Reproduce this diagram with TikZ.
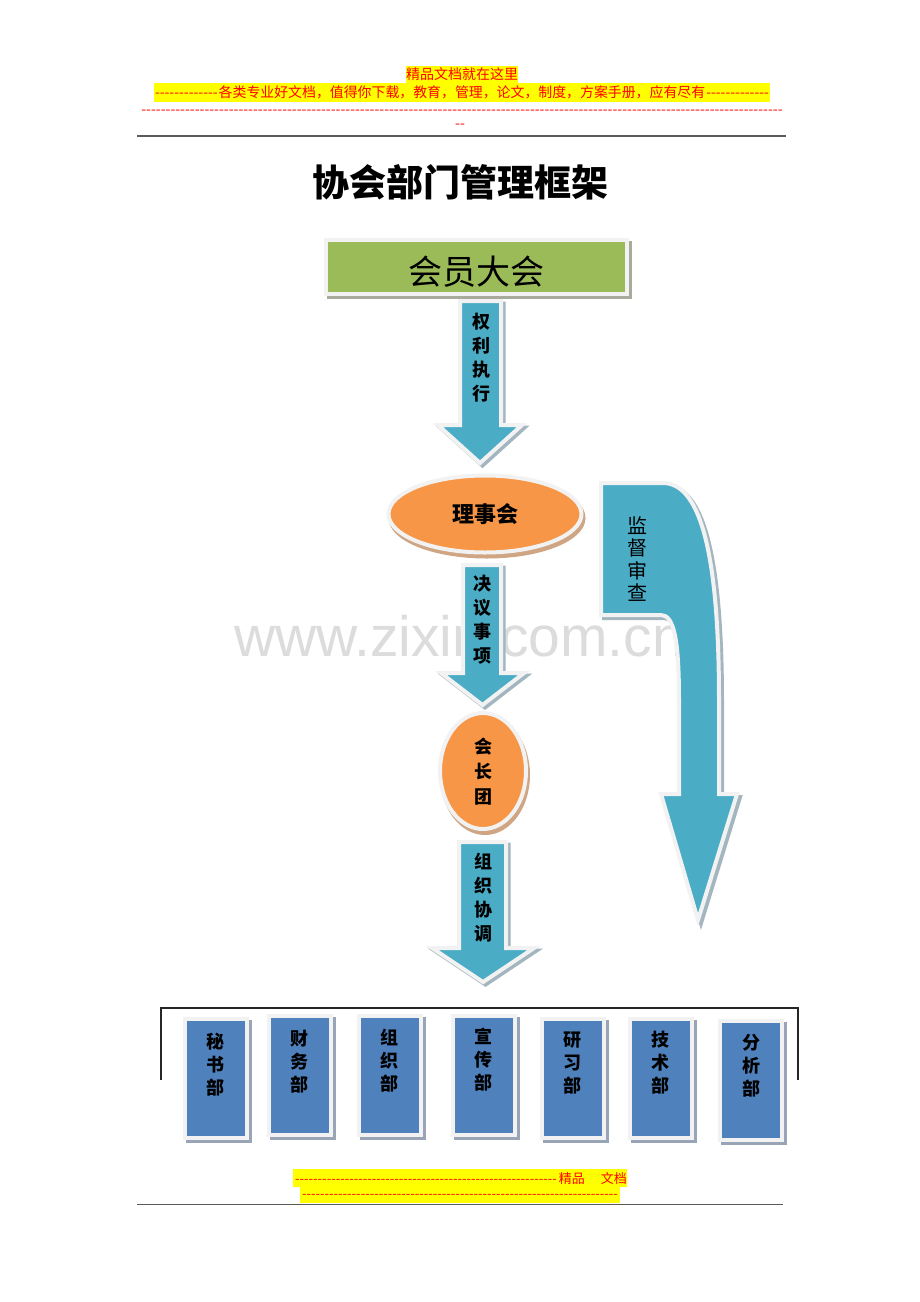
\documentclass[tikz,border=0pt]{standalone}
\usepackage{fontspec}
\setmainfont{Noto Sans CJK SC}
\newfontfamily\wmfont{Liberation Sans}
\usetikzlibrary{shapes.geometric}
\definecolor{hdrred}{HTML}{FF0000}
\definecolor{hlyellow}{HTML}{FFFF00}
\definecolor{grn}{HTML}{9BBB59}
\definecolor{arrowblue}{HTML}{4BACC6}
\definecolor{orng}{HTML}{F79646}
\definecolor{dblue}{HTML}{4F81BD}
\definecolor{frmcol}{HTML}{F2F2F2}
\definecolor{ashadow}{HTML}{A3B6C0}
\definecolor{oshadow}{HTML}{CFA584}
\definecolor{gshadow}{HTML}{A8AA9C}
\definecolor{bshadow}{HTML}{99A5B7}
\definecolor{wmgray}{HTML}{DCDCDC}
\definecolor{rulegray}{HTML}{5A5A5A}
\newcommand\dashfill{\cleaders\hbox{-}\hfill}
\newcommand\myarrow[7]{%
  \path[fill=ashadow,draw=ashadow,line width=4pt,line join=miter,xshift=2.5pt,yshift=-2.5pt]
    (#1,#3) -- (#2,#3) -- (#2,#4) -- (#6,#4) -- ({(#5+#6)/2},#7) -- (#5,#4) -- (#1,#4) -- cycle;
  \path[fill=arrowblue,shapeframe]
    (#1,#3) -- (#2,#3) -- (#2,#4) -- (#6,#4) -- ({(#5+#6)/2},#7) -- (#5,#4) -- (#1,#4) -- cycle;
}
\begin{document}
\begin{tikzpicture}[x=1pt,y=-1pt,
  shapeframe/.style={draw=frmcol,line width=4pt,line join=miter},
  hdr/.style={text=hdrred,inner sep=0pt},
  vtxt/.style={align=center,inner sep=0pt,font=\bfseries\fontsize{18}{24}\selectfont},
  dtxt/.style={align=center,inner sep=0pt,font=\bfseries\fontsize{18}{23}\selectfont},
]
\useasboundingbox (0,0) rectangle (920,1302);
\fill[white] (0,0) rectangle (920,1302);

% header
\fill[hlyellow] (406,66) rectangle (518,83);
\node[hdr,font=\fontsize{14}{16}\selectfont] (h1) at (462,74.5) {精品文档就在这里};
\fill[hlyellow] (154,83) rectangle (770,102);
\node[hdr,font=\fontsize{13.9}{16}\selectfont] (h2) at (462,92.5) {\hbox to 616pt{\dashfill 各类专业好文档，值得你下载，教育，管理，论文，制度，方案手册，应有尽有\dashfill}};
\node[hdr,font=\fontsize{14}{16}\selectfont] (h3) at (462,112) {\hbox to 642pt{\dashfill}};
\node[hdr,font=\fontsize{14}{16}\selectfont] (h4) at (460,126) {\hbox{-}\hbox{-}};
\draw[rulegray,line width=1.8pt] (137,136) coordinate (r1a) -- (786,136) coordinate (r1b);

% title
\node[font=\bfseries\fontsize{37}{40}\selectfont,inner sep=0pt] (title) at (460,182) {协会部门管理框架};

% watermark
\node[text=wmgray,font=\wmfont\fontsize{57}{60}\selectfont,inner sep=0pt] (wm) at (459,636) {www.zixin.com.cn};

% top box
\path[fill=gshadow,draw=gshadow,line width=4pt,xshift=2.5pt,yshift=-3pt] (326,240) rectangle (627,294);
\path[fill=grn,shapeframe] (326,240) rectangle (627,294);
\node[font=\fontsize{34}{36}\selectfont,inner sep=0pt] (hy) at (476,272) {会员大会};

% arrow 1
\myarrow{460}{501}{301}{425}{438}{522}{463}
\node[vtxt] (t1) at (481,358) {权\\利\\执\\行};

% ellipse 理事会
\node[ellipse,minimum width=193pt,minimum height=77pt,fill=oshadow,draw=oshadow,line width=4pt,inner sep=0pt] (lshs) at (487,518) {};
\node[ellipse,minimum width=193pt,minimum height=77pt,fill=orng,shapeframe,inner sep=0pt,font=\bfseries\fontsize{22}{24}\selectfont] (lsh) at (485,514) {理事会};

% arrow 2
\myarrow{463}{501}{565}{673}{441}{524}{705}
\node[vtxt] (t2) at (482,620) {决\\议\\事\\项};

% ellipse 会长团
\node[ellipse,minimum width=86pt,minimum height=116pt,fill=oshadow,draw=oshadow,line width=4pt,inner sep=0pt] (hztS) at (485,775) {};
\node[ellipse,minimum width=86pt,minimum height=116pt,fill=orng,shapeframe,inner sep=0pt] (hzt) at (483,771) {};
\node[align=center,inner sep=0pt,font=\bfseries\fontsize{18}{25}\selectfont] (t3) at (483,772) {会\\长\\团};

% arrow 3
\myarrow{459}{506}{842}{948}{432}{534}{982}
\node[vtxt] (t4) at (483,898) {组\\织\\协\\调};

% curved arrow 监督审查
\path[fill=ashadow,draw=ashadow,line width=4pt,line join=miter,xshift=3pt,yshift=-3pt]
  (601,483) -- (663,483) .. controls (702,483) and (719,560) .. (719,700) -- (719,794) -- (737,794) -- (698,920) -- (661,794) -- (679,794) -- (679,700) .. controls (679,640) and (674,615) .. (661,615) -- (601,615) -- cycle;
\path[fill=arrowblue,shapeframe]
  (601,483) -- (663,483) .. controls (702,483) and (719,560) .. (719,700) -- (719,794) -- (737,794) -- (698,920) -- (661,794) -- (679,794) -- (679,700) .. controls (679,640) and (674,615) .. (661,615) -- (601,615) -- cycle;
\node[align=center,inner sep=0pt,font=\fontsize{20}{22.3}\selectfont] (t5) at (637,559) {监\\督\\审\\查};

% bracket
\draw[black!85,line width=1.2pt] (161,1080) coordinate (ba) -- (161,1008) -- (798,1008) -- (798,1080) coordinate (bb);

% departments
\foreach \cx/\ya/\yb/\ty/\ta/\tb/\tc [count=\i] in {
  215.5/1021/1136/1065/秘/书/部,
  299.5/1018/1133/1062/财/务/部,
  389.5/1018/1133/1061/组/织/部,
  483.5/1018/1133/1060/宣/传/部,
  572.5/1021/1136/1063/研/习/部,
  660.5/1021/1136/1063/技/术/部,
  751/1023/1138/1066/分/析/部}{
  \path[fill=bshadow,draw=bshadow,line width=4pt,xshift=3pt,yshift=-3pt] (\cx-31,\ya-2) rectangle (\cx+31,\yb+2);
  \path[fill=dblue,shapeframe] (\cx-31,\ya-2) rectangle (\cx+31,\yb+2);
  \node[dtxt] (d\i) at (\cx,\ty) {\ta\\\tb\\\tc};
}

% footer
\fill[hlyellow] (293,1169) rectangle (627,1187);
\node[hdr,font=\fontsize{13}{15}\selectfont] (f1) at (460,1178) {\hbox to 334pt{\dashfill 精品\hspace{16pt}文档}};
\fill[hlyellow] (300,1187) rectangle (620,1203);
\node[hdr,font=\fontsize{13}{15}\selectfont] (f2) at (460,1196) {\hbox to 320pt{\dashfill}};
\draw[rulegray,line width=1.8pt] (137,1204.5) coordinate (r2a) -- (783,1204.5) coordinate (r2b);
\end{tikzpicture}
\end{document}
